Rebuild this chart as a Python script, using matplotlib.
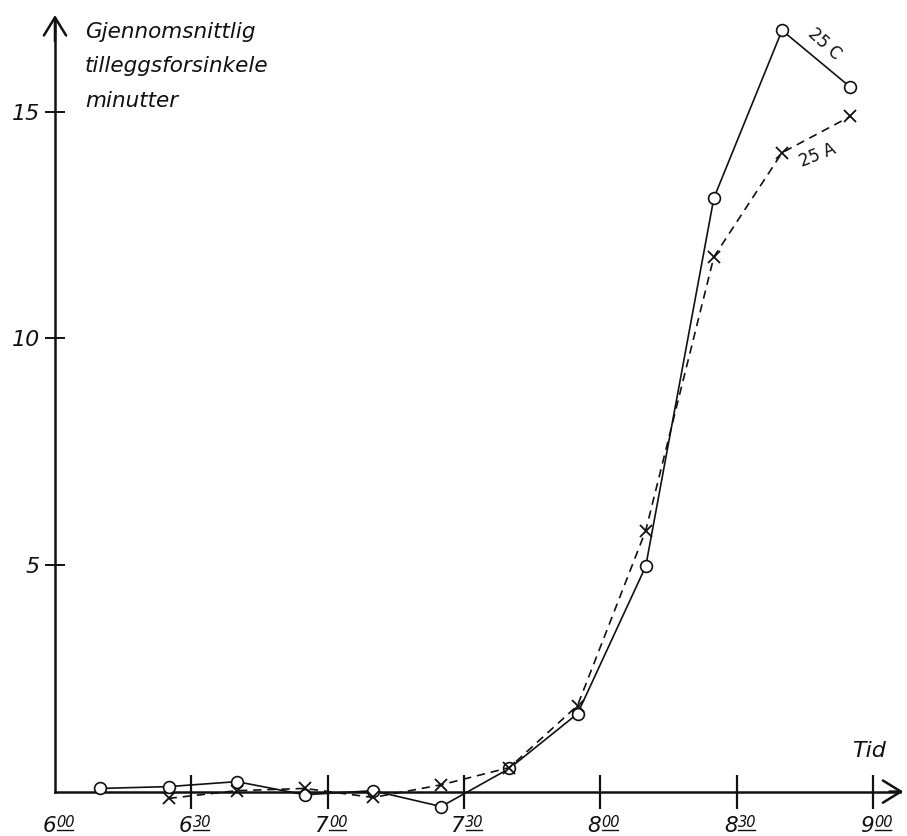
import matplotlib
matplotlib.use('Agg')
import matplotlib.pyplot as plt

#
# data: minutes after 6:00 and average extra delay (minutes)
#
tid_25c = [10, 25, 40, 55, 70, 85, 100, 115, 130, 145, 160, 175]
forsinkelse_25c = [0.07, 0.11, 0.22, -0.07, 0.02, -0.33, 0.51, 1.72, 4.97, 13.1, 16.8, 15.55]

tid_25a = [25, 40, 55, 70, 85, 100, 115, 130, 145, 160, 175]
forsinkelse_25a = [-0.15, 0.02, 0.07, -0.13, 0.15, 0.53, 1.9, 5.76, 11.8, 14.1, 14.9]

tick_min = [0, 30, 60, 90, 120, 150, 180]
tick_hour = ['6', '6', '7', '7', '8', '8', '9']
tick_sub = ['00', '30', '00', '30', '00', '30', '00']
ytick_vals = [5, 10, 15]
ylabel_lines = ['Gjennomsnittlig', 'tilleggsforsinkele', 'minutter']

#
# figure, axes fills whole canvas so the scale matches the scan
#
fig = plt.figure(figsize=(9.07, 8.36), dpi=100)
ax = fig.add_axes([0, 0, 1, 1])
ax.set_xlim(-12.1, 187.5)
ax.set_ylim(-0.98, 17.47)

ink = '#111111'
font = dict(family='DejaVu Sans', style='italic', color=ink)

for side in ['top', 'right']:
    ax.spines[side].set_visible(False)
ax.spines['left'].set_position(('data', 0))
ax.spines['bottom'].set_position(('data', 0))
ax.spines['left'].set_bounds(0, 17.0)
ax.spines['bottom'].set_bounds(0, 186)
ax.spines['left'].set_linewidth(1.8)
ax.spines['bottom'].set_linewidth(1.8)
ax.spines['left'].set_color(ink)
ax.spines['bottom'].set_color(ink)

# arrow heads
ax.annotate('', xy=(0, 17.2), xytext=(0, 16.5),
            arrowprops=dict(arrowstyle='->,head_length=0.65,head_width=0.4',
                            lw=1.8, color=ink, mutation_scale=20))
ax.annotate('', xy=(187.3, 0), xytext=(183, 0),
            arrowprops=dict(arrowstyle='->,head_length=0.65,head_width=0.4',
                            lw=1.8, color=ink, mutation_scale=20))

# ticks
ax.set_xticks(tick_min[1:])
ax.set_xticklabels([])
ax.tick_params(axis='x', direction='inout', length=25, width=1.6, color=ink)
ax.set_yticks(ytick_vals)
ax.set_yticklabels([str(v) for v in ytick_vals], fontsize=16, **font)
ax.tick_params(axis='y', direction='inout', length=14, width=1.4, color=ink, pad=4)

# x tick labels: hour + raised underlined minutes
for m, h, s in zip(tick_min, tick_hour, tick_sub):
    ax.text(m + 0.2, -0.894, h, fontsize=15.5, ha='right', va='baseline', **font)
    ax.text(m + 0.3, -0.78, s, fontsize=10.5, ha='left', va='baseline', **font)
    ax.plot([m + 0.4, m + 4.0], [-0.85, -0.85], color=ink, lw=1.0)

# series
ax.plot(tid_25c, forsinkelse_25c, color=ink, lw=1.2, marker='o', ms=8.5,
        mfc='white', mec=ink, mew=1.2, zorder=3)
ax.plot(tid_25a, forsinkelse_25a, color=ink, lw=1.2, ls=(0, (5, 3.5)),
        marker='x', ms=8, mec=ink, mew=1.3, zorder=3)

ax.text(169.3, 16.5, '25 C', fontsize=12, rotation=-42, ha='center', va='center',
        family='DejaVu Sans', color=ink)
ax.text(167.8, 14.05, '25 A', fontsize=12, rotation=22, ha='center', va='center',
        family='DejaVu Sans', color=ink)

# axis titles
for i, line in enumerate(ylabel_lines):
    ax.text(6.6, 16.63 - i * 0.76, line, fontsize=15.5, ha='left', va='baseline', **font)
ax.text(175.4, 0.76, 'Tid', fontsize=16, ha='left', va='baseline', **font)

fig.savefig('out.png', dpi=100)
